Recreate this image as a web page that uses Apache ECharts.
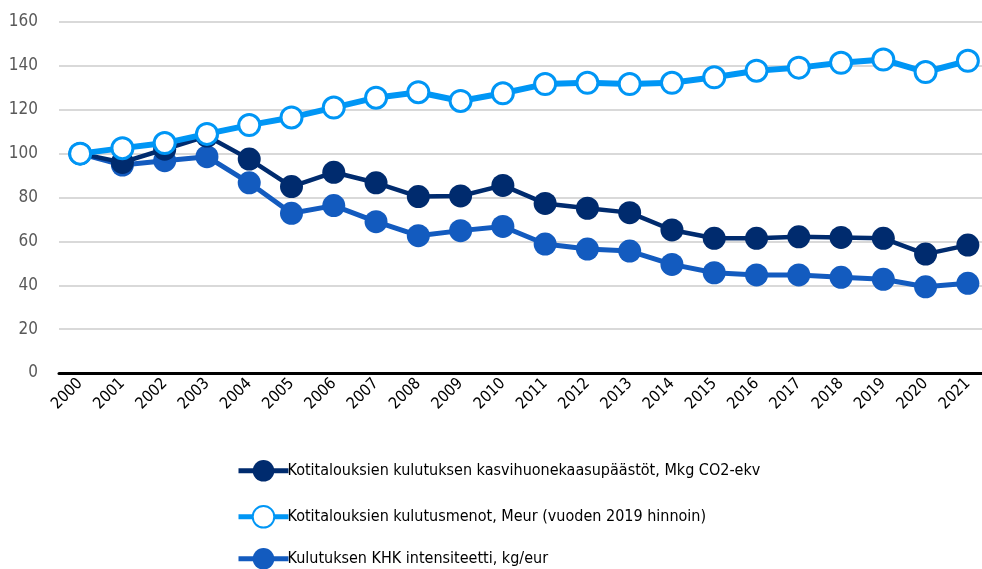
<!DOCTYPE html>
<html><head><meta charset="utf-8">
<script src="https://cdn.jsdelivr.net/npm/echarts@6/dist/echarts.min.js"></script>
<style>html,body{margin:0;padding:0;background:#fff;overflow:hidden}#c{width:989px;height:569px}</style>
</head><body><div id="c"></div>
<script>
const years = ['2000','2001','2002','2003','2004','2005','2006','2007','2008','2009','2010','2011','2012','2013','2014','2015','2016','2017','2018','2019','2020','2021'];
const emissions = [100,96,102,108,97.5,85,91.5,86.7,80.4,80.7,85.5,77.3,75.1,73.1,65.2,61.4,61.4,62.1,61.8,61.4,54.2,58.3];
const spending = [100,102.5,104.8,109,113,116.5,121,125.5,128,124,127.5,131.7,132.3,131.7,132.3,134.8,137.8,139.2,141.4,142.9,137.2,142.3];
const intensity = [100,94.8,96.8,98.6,86.7,72.8,76.3,69,62.6,64.9,66.8,58.8,56.5,55.6,49.5,45.7,44.7,44.7,43.6,42.7,39.3,40.9];
const yTicks = [0,20,40,60,80,100,120,140,160];
const names = ['Kotitalouksien kulutuksen kasvihuonekaasupäästöt, Mkg CO2-ekv','Kotitalouksien kulutusmenot, Meur (vuoden 2019 hinnoin)','Kulutuksen KHK intensiteetti, kg/eur'];
const FONT = '"Liberation Sans Narrow","DejaVu Sans Condensed",sans-serif';
const legendTops = [455, 500, 543];
const mkLegend = (i) => ({orient:'horizontal',left:231,top:legendTops[i],itemWidth:50,itemHeight:27,
    lineStyle:{width:5},
    textStyle:{color:'#000',fontSize:16,fontFamily:FONT,padding:[0,0,0,-6]},
    data:[names[i]]});
const chart = echarts.init(document.getElementById('c'));
chart.setOption({
  animation:false,
  textStyle:{fontFamily:FONT},
  grid:{left:59,right:0,top:22,height:351},
  xAxis:{type:'category',data:years,boundaryGap:true,
    axisLine:{lineStyle:{color:'#000',width:3}},axisTick:{show:false},
    axisLabel:{rotate:45,color:'#000',fontSize:16,fontFamily:FONT,margin:8,interval:0}},
  yAxis:{type:'value',min:yTicks[0],max:yTicks[yTicks.length-1],interval:20,
    axisLine:{show:false},axisTick:{show:false},
    splitLine:{lineStyle:{color:'#d9d9d9',width:2}},
    axisLabel:{color:'#595959',fontSize:17,fontFamily:FONT,margin:21}},
  legend:[mkLegend(0),mkLegend(1),mkLegend(2)],
  series:[
    {name:names[0],type:'line',data:emissions,z:3,symbol:'circle',symbolSize:23,
      lineStyle:{color:'#002b6e',width:4.5},itemStyle:{color:'#002b6e'}},
    {name:names[2],type:'line',data:intensity,z:2,symbol:'circle',symbolSize:23,
      lineStyle:{color:'#135bbf',width:5},itemStyle:{color:'#135bbf'}},
    {name:names[1],type:'line',data:spending,z:4,symbol:'circle',symbolSize:21,
      lineStyle:{color:'#0096f5',width:6},itemStyle:{color:'#fff',borderColor:'#0096f5',borderWidth:3}}
  ]
});
</script></body></html>
